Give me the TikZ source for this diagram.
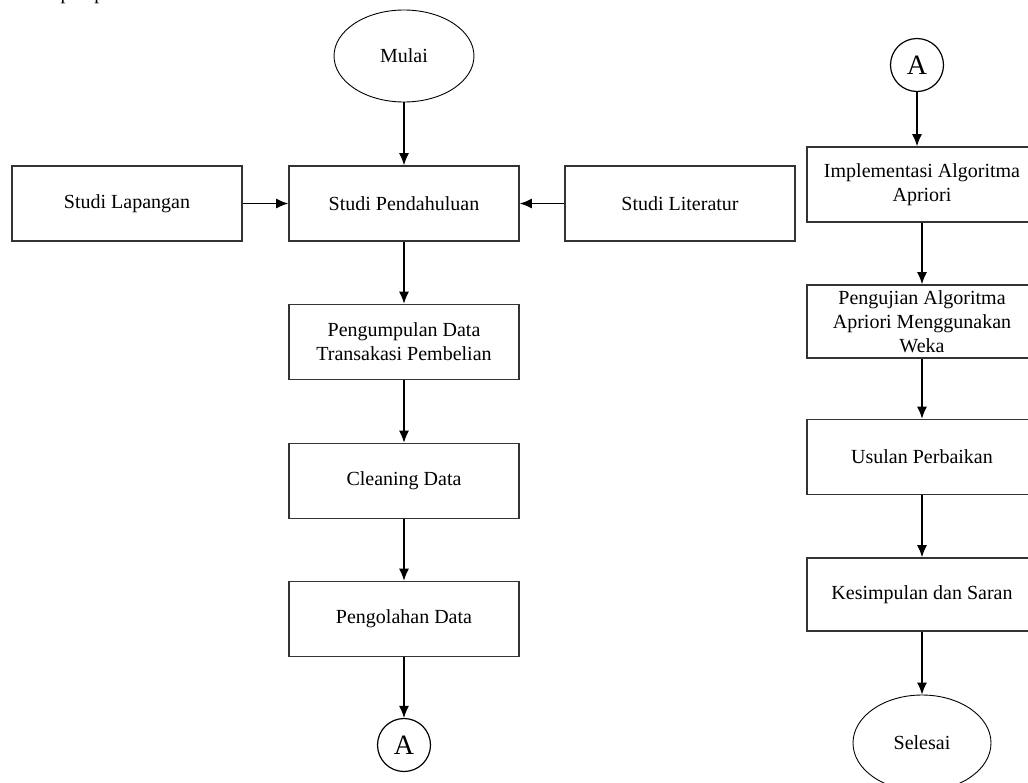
\documentclass[tikz,border=0pt]{standalone}
\usepackage{fontspec}
\setmainfont{Liberation Serif}
\usetikzlibrary{arrows.meta,shapes.geometric}
\begin{document}
\begin{tikzpicture}[x=1pt,y=-1pt,
  box/.style={draw=black!80, line width=1.7pt, minimum width=230pt, minimum height=75pt,
    align=center, inner sep=2pt, font=\fontsize{20}{24}\selectfont},
  term/.style={ellipse, draw, line width=0.9pt, minimum width=140pt, minimum height=92pt,
    inner sep=0pt, font=\fontsize{20}{24}\selectfont},
  conn/.style={circle, draw, line width=1.2pt, minimum size=53pt, inner sep=0pt,
    font=\fontsize{28}{28}\selectfont},
  arr/.style={-{Latex[length=12pt,width=10pt]}, line width=1.2pt}]
\useasboundingbox (0,0) rectangle (1028,782);
\fill[white] (0,0) rectangle (1028,782);
% cut-off caption line at top (only its lowest part shows)
\node[anchor=base west, inner sep=0pt, font=\fontsize{20}{24}\selectfont] (cap) at (27,-1) {tahapan penelitian.};
% left column
\node[term] (mulai) at (404,56) {Mulai};
\node[box] (pend) at (404,203.5) {Studi Pendahuluan};
\node[box] (lap) at (127,203.5) {Studi Lapangan};
\node[box] (lit) at (680,203.5) {Studi Literatur};
\node[box] (kumpul) at (404,342) {Pengumpulan Data\\Transakasi Pembelian};
\node[box] (clean) at (404,481) {Cleaning Data};
\node[box] (olah) at (404,619) {Pengolahan Data};
\node[conn] (a1) at (404,745) {A};
% right column
\node[conn] (a2) at (917,65) {A};
\node[box] (impl) at (922,184.5) {Implementasi Algoritma\\Apriori};
\node[box, minimum height=73pt] (uji) at (922,321.5) {Pengujian Algoritma\\Apriori Menggunakan\\Weka};
\node[box] (usul) at (922,457) {Usulan Perbaikan};
\node[box, minimum height=73pt] (kes) at (922,594.5) {Kesimpulan dan Saran};
\node[term, minimum height=96pt, minimum width=138pt] (sel) at (922,743) {Selesai};
% connectors
\draw[arr] (mulai) -- (pend);
\draw[arr] (lap) -- (pend);
\draw[arr] (lit) -- (pend);
\draw[arr] (pend) -- (kumpul);
\draw[arr] (kumpul) -- (clean);
\draw[arr] (clean) -- (olah);
\draw[arr] (olah) -- (a1);
\draw[arr] (a2.south) -- (a2.south |- impl.north);
\draw[arr] (impl) -- (uji);
\draw[arr] (uji) -- (usul);
\draw[arr] (usul) -- (kes);
\draw[arr] (kes) -- (sel);
\end{tikzpicture}
\end{document}
